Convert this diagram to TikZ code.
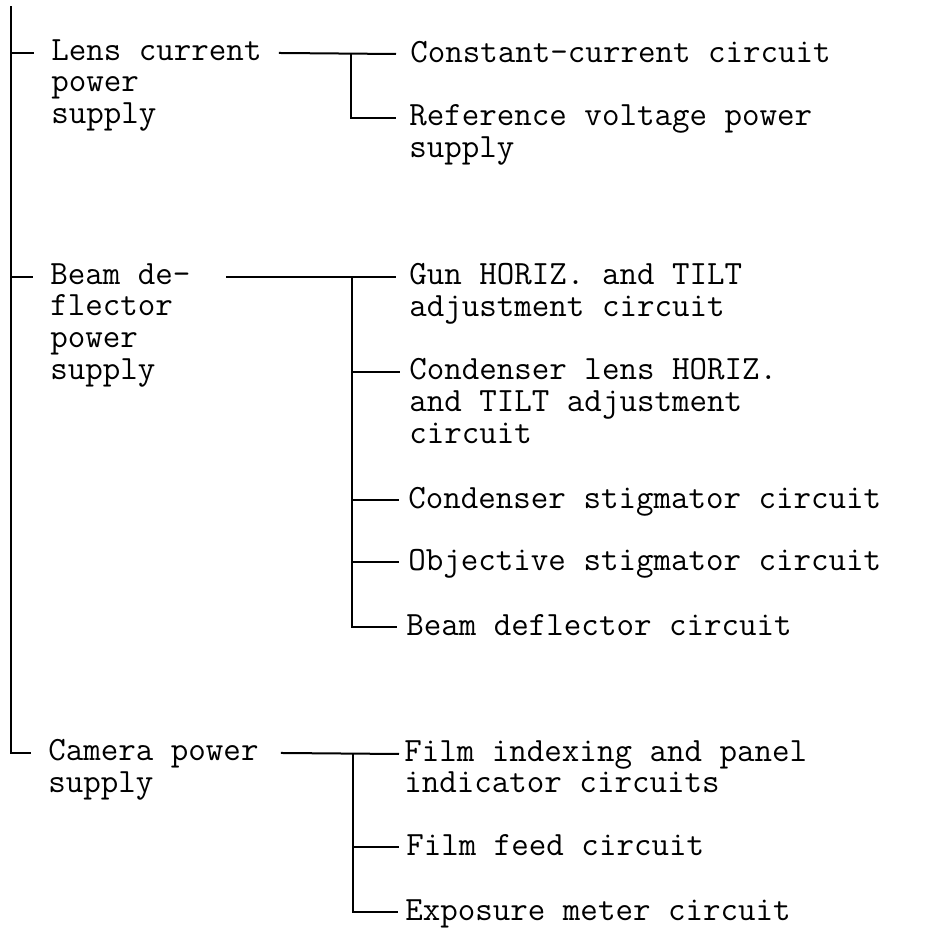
\documentclass[tikz,border=0pt]{standalone}
\usepackage{fontspec}
\usetikzlibrary{positioning}
\usetikzlibrary{calc}

\tikzset{
    item/.style={anchor=north west, align=left, inner sep=0pt,
        font=\ttfamily\fontsize{17}{15.9}\selectfont,
        execute at begin node=\strut},
    wire/.style={line width=1pt, line cap=rect}
}

\begin{document}
\begin{tikzpicture}[x=0.5pt, y=-0.5pt]
    \useasboundingbox (0,0) rectangle (934,929);

    % Level 1: power supplies
    \node[item] (lens) at (51,39) {Lens current\\power\\supply};
    \node[item] (beam) at (50,263) {Beam de-\\flector\\power\\supply};
    \node[item] (camera) at (48,739) {Camera power\\supply};

    % Level 2: circuits fed by the lens current supply
    \node[item] (const) at (410,40) {Constant-current circuit};
    \node[item] (refv) at (409,104) {Reference voltage power\\supply};

    % Level 2: circuits fed by the beam deflector supply
    \node[item] (gun) at (409,263) {Gun HORIZ. and TILT\\adjustment circuit};
    \node[item] (cndl) at (409,358) {Condenser lens HORIZ.\\and TILT adjustment\\circuit};
    \node[item] (cnds) at (408,486) {Condenser stigmator circuit};
    \node[item] (objs) at (408,548) {Objective stigmator circuit};
    \node[item] (bdef) at (406,613) {Beam deflector circuit};

    % Level 2: circuits fed by the camera supply
    \node[item] (filmi) at (404,740) {Film indexing and panel\\indicator circuits};
    \node[item] (filmf) at (406,833) {Film feed circuit};
    \node[item] (expo) at (405,898) {Exposure meter circuit};

    % Trunk on the left
    \coordinate (root) at (11,7);
    \foreach \n in {lens,beam,camera} {
        \draw[wire] (root) |- ([xshift=-9pt,yshift=-7pt]\n.north west);
    }

    % Lens current branch
    \coordinate (lensfork) at (351,54);
    \draw[wire] ([xshift=9pt,yshift=-7pt]lens.north east) -- ([xshift=-7.5pt,yshift=-7pt]const.north west);
    \draw[wire] (lensfork) |- ([xshift=-7pt,yshift=-7pt]refv.north west);

    % Beam deflector branch
    \coordinate (beamfork) at (352,277);
    \draw[wire] ([xshift=18pt,yshift=-7pt]beam.north east) -- ([xshift=-7pt,yshift=-7pt]gun.north west);
    \foreach \n in {cndl,cnds,objs,bdef} {
        \draw[wire] (beamfork) |- ([xshift=-5pt,yshift=-7pt]\n.north west);
    }

    % Camera branch
    \coordinate (camfork) at (353,754);
    \draw[wire] ([xshift=11.5pt,yshift=-7pt]camera.north east) -- ([xshift=-3pt,yshift=-7pt]filmi.north west);
    \foreach \n in {filmf,expo} {
        \draw[wire] (camfork) |- ([xshift=-4pt,yshift=-7pt]\n.north west);
    }
\end{tikzpicture}
\end{document}
